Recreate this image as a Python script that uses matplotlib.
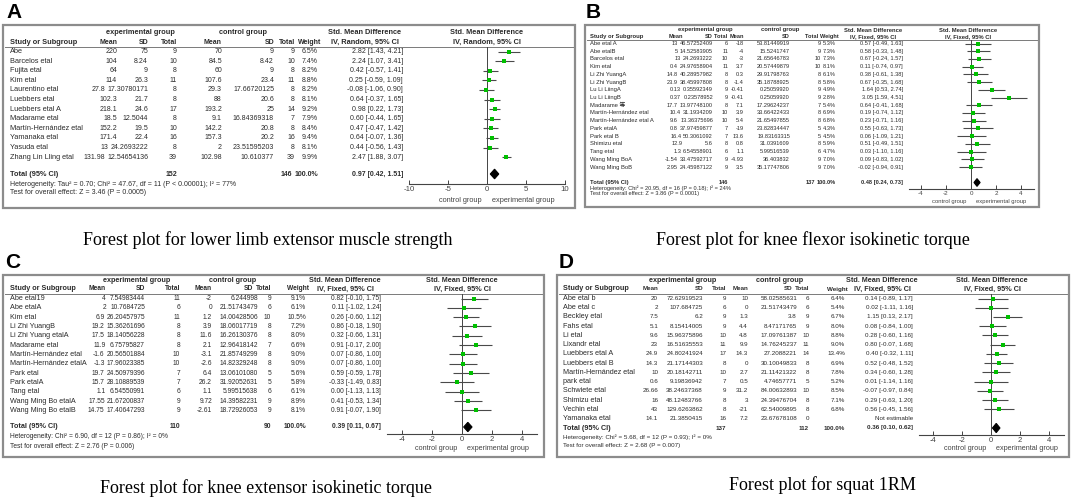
import matplotlib
matplotlib.use('Agg')
import matplotlib.pyplot as plt
from matplotlib.patches import Rectangle

plt.rcParams['font.family'] = ['Liberation Sans', 'Noto Sans CJK SC', 'DejaVu Sans']
plt.rcParams['axes.unicode_minus'] = False

# ---------------- Panel A data ----------------
a_names = ["Abe", "Barcelos etal", "Fujita etal", "Kim etal", "Laurentino etal", "Luebbers etal",
           "Luebbers etal A", "Madarame etal", "Martín-Hernández etal", "Yamanaka etal", "Yasuda etal",
           "Zhang Lin Lling etal"]
a_exp_mean = ["220", "104", "64", "114", "27.8", "102.3", "218.1", "18.5", "152.2", "171.4", "13", "131.98"]
a_exp_sd = ["75", "8.24", "9", "26.3", "17.30780171", "21.7", "24.6", "12.5044", "19.5", "22.4", "24.2693222", "12.54654136"]
a_exp_n = [9, 10, 8, 11, 8, 8, 17, 8, 10, 16, 8, 39]
a_ctl_mean = ["70", "84.5", "60", "107.6", "29.3", "88", "193.2", "9.1", "142.2", "157.3", "2", "102.98"]
a_ctl_sd = ["9", "8.42", "9", "23.4", "17.66720125", "20.6", "25", "16.84369318", "20.8", "20.2", "23.51595203", "10.610377"]
a_ctl_n = [9, 10, 8, 11, 8, 8, 14, 7, 8, 16, 8, 39]
a_weight = ["6.5%", "7.4%", "8.2%", "8.8%", "8.2%", "8.1%", "9.2%", "7.9%", "8.4%", "9.4%", "8.1%", "9.9%"]
a_smd = [2.82, 2.24, 0.42, 0.25, -0.08, 0.64, 0.98, 0.60, 0.47, 0.64, 0.44, 2.47]
a_lo = [1.43, 1.07, -0.57, -0.59, -1.06, -0.37, 0.22, -0.44, -0.47, -0.07, -0.56, 1.88]
a_hi = [4.21, 3.41, 1.41, 1.09, 0.90, 1.65, 1.73, 1.65, 1.42, 1.36, 1.43, 3.07]
a_total = [152, 146]
a_pooled = [0.97, 0.42, 1.51]
a_het = "Heterogeneity: Tau² = 0.70; Chi² = 47.67, df = 11 (P < 0.00001); I² = 77%"
a_test = "Test for overall effect: Z = 3.46 (P = 0.0005)"
a_method = "IV, Random, 95% CI"
a_ticks = [-10, -5, 0, 5, 10]
a_caption = "Forest plot for lower limb extensor muscle strength"

# ---------------- Panel B data ----------------
b_names = ["Abe etal A", "Abe etalB", "Barcelos etal", "Kim etal", "Li Zhi YuangA", "Li Zhi YuangB",
           "Lu Li LiingA", "Lu Li LiingB", "Madarame 等", "Martín-Hernández etal", "Martín-Hernández etal A",
           "Park etalA", "Park etal B", "Shimizu etal", "Tang etal", "Wang Ming BoA", "Wang Ming BoB"]
b_exp_mean = ["13", "5", "13", "0.4", "14.8", "23.9", "0.13", "0.37", "17.7", "10.4", "9.6", "0.8", "16.4", "12.9", "1.3", "-1.54", "2.95"]
b_exp_sd = ["46.57252409", "14.52583905", "24.2693222", "24.97658904", "40.28957982", "38.45997808", "0.35592349",
            "0.23578952", "13.97748100", "31.1934209", "13.36375696", "37.97459877", "50.3061092", "5.6",
            "6.54558901", "33.47592717", "24.45987122"]
b_exp_n = [6, 11, 10, 11, 8, 8, 9, 9, 8, 10, 10, 7, 7, 8, 6, 9, 9]
b_ctl_mean = ["-18", "-4", "-3", "3.7", "0.3", "-1.4", "-0.41", "-0.41", "7.1", "3.9", "5.4", "-19", "13.6", "0.8", "1.1", "-4.93", "3.5"]
b_ctl_sd = ["53.81449919", "15.5241747", "21.65646783", "20.57449879", "29.91798763", "35.18788925", "0.25059920",
            "0.25059920", "17.29624237", "33.66422433", "21.65497855", "23.82834447", "19.83163315", "31.0391609",
            "5.99516539", "36.403832", "35.17747806"]
b_ctl_n = [9, 9, 10, 10, 8, 8, 9, 9, 7, 8, 8, 5, 5, 8, 6, 9, 9]
b_weight = ["5.3%", "7.3%", "7.3%", "8.1%", "6.1%", "5.8%", "4.9%", "2.8%", "5.4%", "6.9%", "6.8%", "4.3%", "4.5%", "5.9%", "4.7%", "7.0%", "7.0%"]
b_smd = [0.57, 0.58, 0.67, 0.11, 0.38, 0.67, 1.64, 3.05, 0.64, 0.19, 0.23, 0.55, 0.06, 0.51, 0.03, 0.09, -0.02]
b_lo = [-0.49, -0.33, -0.24, -0.74, -0.61, -0.35, 0.53, 1.59, -0.41, -0.74, -0.71, -0.63, -1.09, -0.49, -1.10, -0.83, -0.94]
b_hi = [1.63, 1.48, 1.57, 0.97, 1.38, 1.68, 2.74, 4.51, 1.68, 1.12, 1.16, 1.73, 1.21, 1.51, 1.16, 1.02, 0.91]
b_total = [146, 137]
b_pooled = [0.48, 0.24, 0.73]
b_het = "Heterogeneity: Chi² = 20.95, df = 16 (P = 0.18); I² = 24%"
b_test = "Test for overall effect: Z = 3.86 (P = 0.0001)"
b_method = "IV, Fixed, 95% CI"
b_ticks = [-4, -2, 0, 2, 4]
b_caption = "Forest plot for knee flexor isokinetic torque"

# ---------------- Panel C data ----------------
c_names = ["Abe etal19", "Abe etalA", "Kim etal", "Li Zhi YuangB", "Li Zhi Yuang etalA", "Madarame etal",
           "Martín-Hernández etal", "Martín-Hernández etalA", "Park etal", "Park etalA", "Tang etal",
           "Wang Ming Bo etalA", "Wang Ming Bo etalB"]
c_exp_mean = ["4", "2", "6.9", "19.2", "17.5", "11.9", "-1.6", "-1.3", "19.7", "15.7", "1.1", "17.55", "14.75"]
c_exp_sd = ["7.54983444", "10.7684725", "26.20457975", "15.36261696", "18.14056228", "6.75795827", "20.56501884",
            "17.96023385", "24.50979396", "28.10889539", "6.54550991", "21.67200837", "17.40647293"]
c_exp_n = [11, 6, 11, 8, 8, 8, 10, 10, 7, 7, 6, 9, 9]
c_ctl_mean = ["-2", "0", "1.2", "3.9", "11.6", "2.1", "-3.1", "-2.6", "6.4", "26.2", "1.1", "9.72", "-2.61"]
c_ctl_sd = ["6.244998", "21.51743479", "14.00428506", "18.06017719", "16.26130376", "12.96418142", "21.85749299",
            "14.82329248", "13.06101080", "31.92052631", "5.99515638", "14.39582231", "18.72926053"]
c_ctl_n = [9, 6, 10, 8, 8, 7, 8, 8, 5, 5, 6, 9, 9]
c_weight = ["9.1%", "6.1%", "10.5%", "7.2%", "8.0%", "6.6%", "9.0%", "9.0%", "5.6%", "5.8%", "6.1%", "8.9%", "8.1%"]
c_smd = [0.82, 0.11, 0.26, 0.86, 0.32, 0.91, 0.07, 0.07, 0.59, -0.33, 0.00, 0.41, 0.91]
c_lo = [-0.10, -1.02, -0.60, -0.18, -0.66, -0.17, -0.86, -0.86, -0.59, -1.49, -1.13, -0.53, -0.07]
c_hi = [1.75, 1.24, 1.12, 1.90, 1.31, 2.00, 1.00, 1.00, 1.78, 0.83, 1.13, 1.34, 1.90]
c_total = [110, 90]
c_pooled = [0.39, 0.11, 0.67]
c_het = "Heterogeneity: Chi² = 6.90, df = 12 (P = 0.86); I² = 0%"
c_test = "Test for overall effect: Z = 2.76 (P = 0.006)"
c_method = "IV, Fixed, 95% CI"
c_ticks = [-4, -2, 0, 2, 4]
c_caption = "Forest plot for knee extensor isokinetic torque"

# ---------------- Panel D data ----------------
d_names = ["Abe etal b", "Abe etal c", "Beckley etal", "Fahs etal", "Li etal", "Lixandr etal", "Luebbers etal A",
           "Luebbers etal B", "Martín-Hernández etal", "park etal", "Schwiete etal", "Shimizu etal", "Vechin etal",
           "Yamanaka etal"]
d_exp_mean = ["20", "2", "7.5", "5.1", "9.6", "23", "24.9", "14.3", "10", "0.6", "26.66", "16", "43", "14.1"]
d_exp_sd = ["72.62919523", "107.684725", "6.2", "8.15414005", "15.96375896", "16.51635553", "24.80241924",
            "21.17144303", "20.18142711", "9.19836942", "38.24637368", "48.12483766", "129.6263862", "21.3850415"]
d_exp_n = [9, 6, 9, 9, 10, 11, 17, 8, 10, 7, 9, 8, 8, 16]
d_ctl_mean = ["10", "0", "1.3", "4.4", "4.8", "9.9", "14.3", "0", "2.7", "0.5", "31.2", "3", "-21", "7.2"]
d_ctl_sd = ["58.02585631", "21.51743479", "3.8", "8.47171765", "17.09761387", "14.76245237", "27.2088221",
            "30.10049833", "21.11421322", "4.74657771", "84.00632893", "24.39476704", "62.54009895", "23.67678108"]
d_ctl_n = [6, 6, 9, 9, 10, 11, 14, 8, 8, 5, 10, 8, 8, 0]
d_weight = ["6.4%", "5.4%", "6.7%", "8.0%", "8.8%", "9.0%", "13.4%", "6.9%", "7.8%", "5.2%", "8.5%", "7.1%", "6.8%", ""]
d_smd = [0.14, 0.02, 1.15, 0.08, 0.28, 0.80, 0.40, 0.52, 0.34, 0.01, -0.07, 0.29, 0.56, None]
d_lo = [-0.89, -1.11, 0.13, -0.84, -0.60, -0.07, -0.32, -0.48, -0.60, -1.14, -0.97, -0.63, -0.45, None]
d_hi = [1.17, 1.16, 2.17, 1.00, 1.16, 1.68, 1.11, 1.52, 1.28, 1.16, 0.84, 1.20, 1.56, None]
d_total = [137, 112]
d_pooled = [0.36, 0.10, 0.62]
d_het = "Heterogeneity: Chi² = 5.68, df = 12 (P = 0.93); I² = 0%"
d_test = "Test for overall effect: Z = 2.68 (P = 0.007)"
d_method = "IV, Fixed, 95% CI"
d_ticks = [-4, -2, 0, 2, 4]
d_caption = "Forest plot for squat 1RM"

panel_data = {
    'A': dict(names=a_names, em=a_exp_mean, esd=a_exp_sd, en=a_exp_n, cm=a_ctl_mean, csd=a_ctl_sd, cn=a_ctl_n,
              w=a_weight, smd=a_smd, lo=a_lo, hi=a_hi, total=a_total, pooled=a_pooled, het=a_het, test=a_test,
              method=a_method, ticks=a_ticks, caption=a_caption),
    'B': dict(names=b_names, em=b_exp_mean, esd=b_exp_sd, en=b_exp_n, cm=b_ctl_mean, csd=b_ctl_sd, cn=b_ctl_n,
              w=b_weight, smd=b_smd, lo=b_lo, hi=b_hi, total=b_total, pooled=b_pooled, het=b_het, test=b_test,
              method=b_method, ticks=b_ticks, caption=b_caption),
    'C': dict(names=c_names, em=c_exp_mean, esd=c_exp_sd, en=c_exp_n, cm=c_ctl_mean, csd=c_ctl_sd, cn=c_ctl_n,
              w=c_weight, smd=c_smd, lo=c_lo, hi=c_hi, total=c_total, pooled=c_pooled, het=c_het, test=c_test,
              method=c_method, ticks=c_ticks, caption=c_caption),
    'D': dict(names=d_names, em=d_exp_mean, esd=d_exp_sd, en=d_exp_n, cm=d_ctl_mean, csd=d_ctl_sd, cn=d_ctl_n,
              w=d_weight, smd=d_smd, lo=d_lo, hi=d_hi, total=d_total, pooled=d_pooled, het=d_het, test=d_test,
              method=d_method, ticks=d_ticks, caption=d_caption),
}

# ---------------- Layout (pixel positions) ----------------
layout = {
    'A': dict(box=(3, 25, 575, 208), label=(14, 12), fsn=5.3, fs=5.0, name_x=10,
              cols=dict(em=117, esd=148, en=177, cm=222, csd=274, cn=295, w=318, ci=403),
              g_y=33, s_y=42, line_y=47, exp_c=140, ctl_c=243, smd_c=365, plot_c=487,
              row0=51.5, step=9.6, tot_y=174, het_y=184, test_y=193,
              zero=487, ppu=7.8, xlim=(-10, 10), axis_y=184, grp_y=200, cap=(268, 240)),
    'B': dict(box=(585, 25, 1039, 207), label=(593, 12), fsn=4.2, fs=4.1, name_x=590,
              cols=dict(em=683, esd=713, en=728, cm=744, csd=790, cn=822, w=836, ci=903),
              g_y=30, s_y=36.5, line_y=40, exp_c=705, ctl_c=780, smd_c=873, plot_c=968,
              row0=43.5, step=7.72, tot_y=182.5, het_y=188, test_y=193.5,
              zero=971, ppu=12.5, xlim=(-5, 5), axis_y=188.5, grp_y=202, cap=(813, 240)),
    'C': dict(box=(3, 275, 544, 457), label=(13, 262), fsn=5.2, fs=4.8, name_x=10,
              cols=dict(em=106, esd=145, en=180, cm=212, csd=258, cn=271, w=306, ci=381),
              g_y=281, s_y=289, line_y=294, exp_c=137, ctl_c=233, smd_c=345, plot_c=462,
              row0=298.5, step=9.33, tot_y=427, het_y=436, test_y=446,
              zero=462, ppu=15, xlim=(-5, 5), axis_y=434, grp_y=448, cap=(266, 488)),
    'D': dict(box=(557, 275, 1069, 457), label=(566, 262), fsn=5.2, fs=4.5, name_x=563,
              cols=dict(em=658, esd=703, en=726, cm=748, csd=797, cn=809, w=845, ci=913),
              g_y=281, s_y=289, line_y=294, exp_c=683, ctl_c=780, smd_c=882, plot_c=992,
              row0=298.5, step=9.23, tot_y=428, het_y=437, test_y=446,
              zero=991, ppu=14.5, xlim=(-5, 5), axis_y=435, grp_y=448, cap=(822, 485)),
}

W, H = 1072, 500
TXT = '#2b2b2b'
fig = plt.figure(figsize=(W / 100, H / 100), dpi=100)
fig.patch.set_facecolor('white')
base = fig.add_axes([0, 0, 1, 1])
base.set_xlim(0, W)
base.set_ylim(H, 0)
base.axis('off')
renderer = fig.canvas.get_renderer()


def fmt_ci(s, l, h):
    return f"{s:.2f} [{l:.2f}, {h:.2f}]"


def right_row(items, y, gap=2.0, **kw):
    """items: list of (right_x, text) ordered left->right; texts are shifted left if they would collide."""
    limit = 1e9
    for xr, s in reversed(items):
        if s == '':
            continue
        xr = min(xr, limit - gap)
        t = base.text(xr, y, s, ha='right', **kw)
        bb = t.get_window_extent(renderer)
        limit = xr - bb.width


for key in ['A', 'B', 'C', 'D']:
    P = panel_data[key]
    L = layout[key]
    fs = L['fs']
    fsn = L['fsn']
    x0, y0, x1, y1 = L['box']
    base.add_patch(Rectangle((x0, y0), x1 - x0, y1 - y0, fill=False, ec='#8c8c8c', lw=1.6))
    base.text(L['label'][0], L['label'][1], key, ha='center', va='center', fontsize=15, fontweight='bold', color='black')
    c = L['cols']
    nkw = dict(fontsize=fsn, color=TXT, va='center')
    kw = dict(fontsize=fs, color=TXT, va='center')
    bkw = dict(fontsize=fs, color=TXT, va='center', fontweight='bold')
    hkw = dict(fontsize=fsn, color=TXT, va='center', fontweight='bold')
    # headers
    base.text(L['exp_c'], L['g_y'], 'experimental group', ha='center', **hkw)
    base.text(L['ctl_c'], L['g_y'], 'control group', ha='center', **hkw)
    base.text(L['smd_c'], L['g_y'], 'Std. Mean Difference', ha='center', **hkw)
    base.text(L['plot_c'], L['g_y'], 'Std. Mean Difference', ha='center', **hkw)
    base.text(L['name_x'], L['s_y'], 'Study or Subgroup', ha='left', **hkw)
    right_row([(c['em'], 'Mean'), (c['esd'], 'SD'), (c['en'], 'Total'), (c['cm'], 'Mean'), (c['csd'], 'SD'),
               (c['cn'], 'Total'), (c['w'] + 3, 'Weight')], L['s_y'], **bkw)
    base.text(L['smd_c'], L['s_y'], P['method'], ha='center', **hkw)
    base.text(L['plot_c'], L['s_y'], P['method'], ha='center', **hkw)
    base.plot([x0 + 2, x1 - 2], [L['line_y'], L['line_y']], color='#7a7a7a', lw=0.7)
    # study rows
    for i, name in enumerate(P['names']):
        y = L['row0'] + i * L['step']
        base.text(L['name_x'], y, name, ha='left', **nkw)
        if P['smd'][i] is None:
            ci_txt = 'Not estimable'
        else:
            ci_txt = fmt_ci(P['smd'][i], P['lo'][i], P['hi'][i])
        right_row([(c['em'], P['em'][i]), (c['esd'], P['esd'][i]), (c['en'], str(P['en'][i])),
                   (c['cm'], P['cm'][i]), (c['csd'], P['csd'][i]), (c['cn'], str(P['cn'][i])),
                   (c['w'], P['w'][i]), (c['ci'], ci_txt)], y, **kw)
    # totals
    base.text(L['name_x'], L['tot_y'], 'Total (95% CI)', ha='left', **hkw)
    right_row([(c['en'], str(P['total'][0])), (c['cn'], str(P['total'][1])), (c['w'], '100.0%'),
               (c['ci'], fmt_ci(*P['pooled']))], L['tot_y'], **bkw)
    base.text(L['name_x'], L['het_y'], P['het'], ha='left', **kw)
    base.text(L['name_x'], L['test_y'], P['test'], ha='left', **kw)

    # forest plot axes
    xl = L['zero'] + L['xlim'][0] * L['ppu']
    xr = L['zero'] + L['xlim'][1] * L['ppu']
    ax = fig.add_axes([xl / W, 1 - L['axis_y'] / H, (xr - xl) / W, (L['axis_y'] - L['line_y']) / H])
    ax.set_xlim(*L['xlim'])
    r_top = (L['line_y'] - L['row0']) / L['step']
    r_bot = (L['axis_y'] - L['row0']) / L['step']
    ax.set_ylim(r_bot, r_top)
    ax.patch.set_alpha(0)
    for s in ['top', 'left', 'right']:
        ax.spines[s].set_visible(False)
    ax.spines['bottom'].set_color('#444444')
    ax.spines['bottom'].set_linewidth(0.8)
    ax.set_yticks([])
    ax.set_xticks(P['ticks'])
    ax.set_xticklabels([str(t) for t in P['ticks']])
    ax.tick_params(axis='x', direction='in', length=3, width=0.7, labelsize=fsn + 0.3, pad=1.5,
                   colors='#444444')
    ax.axvline(0, color='#444444', lw=0.7)
    rows = [i for i in range(len(P['names'])) if P['smd'][i] is not None]
    ax.hlines(rows, [P['lo'][i] for i in rows], [P['hi'][i] for i in rows], color='#4a4a4a', lw=0.8)
    ax.plot([P['smd'][i] for i in rows], rows, 's', color='#00c000', ms=2.2, mew=0)
    tr = (L['tot_y'] - L['row0']) / L['step']
    est, lo, hi = P['pooled']
    ax.fill([lo, est, hi, est], [tr, tr - 0.5, tr, tr + 0.5], color='black', lw=0.8, ec='black')
    base.text(L['zero'] - 5, L['grp_y'], 'control group', ha='right', va='center', fontsize=fsn, color='#444444')
    base.text(L['zero'] + 5, L['grp_y'], 'experimental group', ha='left', va='center', fontsize=fsn, color='#444444')

    base.text(L['cap'][0], L['cap'][1], P['caption'], ha='center', va='center', fontsize=13,
              family='Liberation Serif', color='black')

fig.savefig('out.png', dpi=100)
